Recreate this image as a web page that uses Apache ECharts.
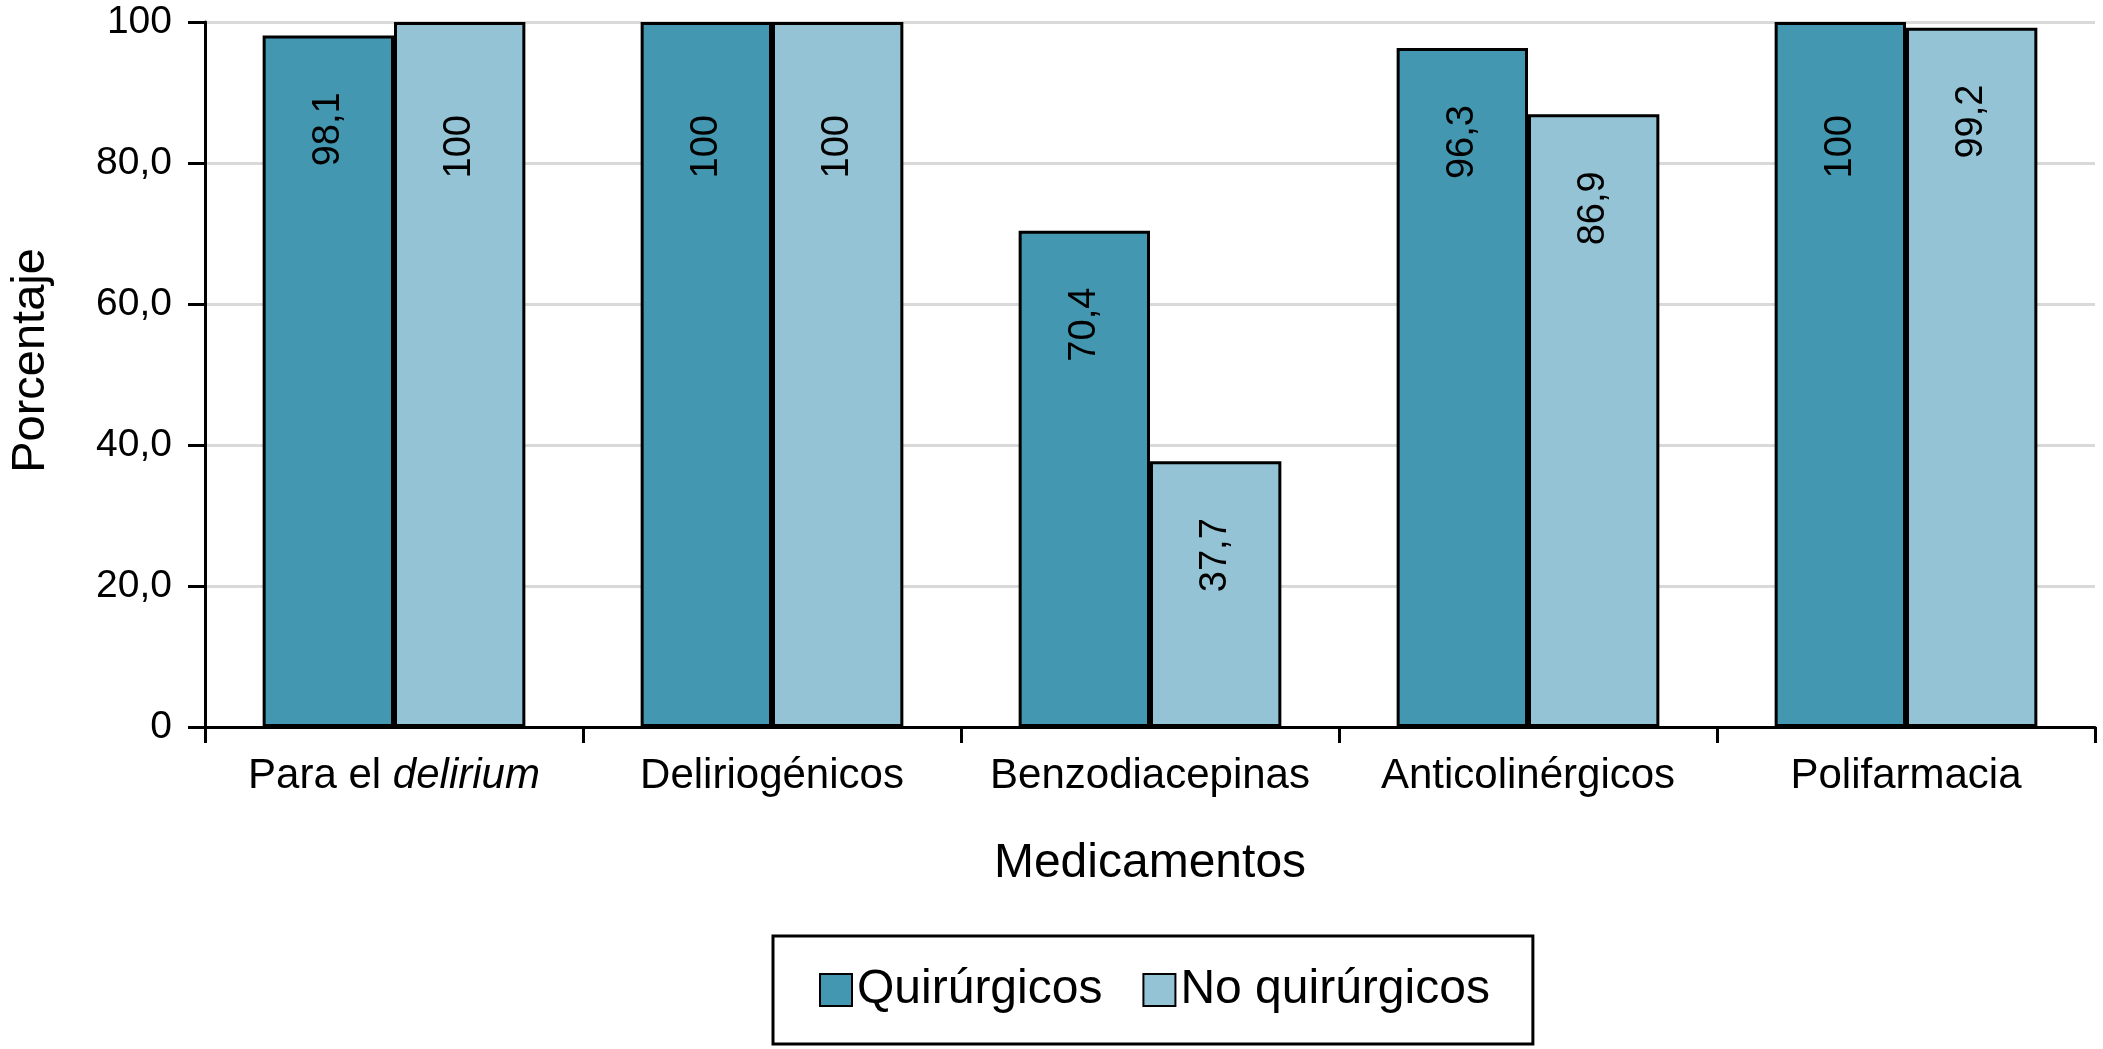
<!DOCTYPE html>
<html>
<head>
<meta charset="utf-8">
<script src="https://cdn.jsdelivr.net/npm/echarts@6/dist/echarts.min.js"></script>
<style>
html,body{margin:0;padding:0;background:#fff;}
#chart{width:2103px;height:1049px;}
</style>
</head>
<body>
<div id="chart"></div>
<script>
var categories = ['Para el delirium', 'Deliriogénicos', 'Benzodiacepinas', 'Anticolinérgicos', 'Polifarmacia'];
var seriesNames = ['Quirúrgicos', 'No quirúrgicos'];
var quirurgicos = [98.1, 100, 70.4, 96.3, 100];
var noQuirurgicos = [100, 100, 37.7, 86.9, 99.2];
var yTickLabels = ['0', '20,0', '40,0', '60,0', '80,0', '100'];

var FONT = '"Liberation Sans", Arial, Helvetica, sans-serif';
var colors = ['#4397B0', '#93C3D5'];

function fmtVal(v) {
  return v === 100 ? '100' : v.toFixed(1).replace('.', ',');
}
function makeData(arr) {
  return arr.map(function (v) {
    return { value: v, label: { distance: v === 100 ? 93 : 57 } };
  });
}
function makeSeries(name, arr, color) {
  return {
    name: name,
    type: 'bar',
    data: makeData(arr),
    barGap: '0%',
    barCategoryGap: '30.5%',
    itemStyle: { color: color, borderColor: '#000', borderWidth: 3 },
    label: {
      show: true,
      position: 'insideTop',
      rotate: 90,
      align: 'right',
      verticalAlign: 'middle',
      fontFamily: FONT,
      fontSize: 38,
      color: '#000',
      formatter: function (p) { return fmtVal(p.value); }
    },
    emphasis: { disabled: true }
  };
}

var chart = echarts.init(document.getElementById('chart'));
chart.setOption({
  animation: false,
  backgroundColor: '#fff',
  grid: { left: 200, right: 8, top: 22, bottom: 322 },
  legend: {
    data: seriesNames,
    left: 773,
    top: 936,
    orient: 'horizontal',
    itemWidth: 32,
    itemHeight: 32,
    itemGap: 40,
    padding: [30, 43, 30, 46],
    borderColor: '#000',
    borderWidth: 3,
    icon: 'rect',
    textStyle: { fontFamily: FONT, fontSize: 48, color: '#000' }
  },
  xAxis: {
    type: 'category',
    data: categories,
    name: 'Medicamentos',
    nameLocation: 'middle',
    nameGap: 113,
    nameTextStyle: { fontFamily: FONT, fontSize: 48, color: '#000' },
    axisLine: { show: true, lineStyle: { color: '#000', width: 3 } },
    axisTick: { show: true, interval: 0, length: 16, lineStyle: { color: '#000', width: 3 } },
    axisLabel: {
      interval: 0,
      margin: 28,
      fontFamily: FONT,
      fontSize: 42,
      color: '#000',
      formatter: function (v) {
        return v.indexOf('delirium') >= 0 ? v.replace('delirium', '{i|delirium}') : v;
      },
      rich: { i: { fontStyle: 'italic', fontFamily: FONT, fontSize: 42, color: '#000' } }
    }
  },
  yAxis: {
    type: 'value',
    min: 0,
    max: 100,
    interval: 20,
    name: 'Porcentaje',
    nameLocation: 'middle',
    nameGap: 150,
    nameTextStyle: { fontFamily: FONT, fontSize: 47, color: '#000', padding: [0, 0, 0, 28] },
    axisLine: { show: true, lineStyle: { color: '#000', width: 3 } },
    axisTick: { show: true, length: 17, lineStyle: { color: '#000', width: 3 } },
    axisLabel: {
      margin: 33,
      fontFamily: FONT,
      fontSize: 39,
      color: '#000',
      formatter: function (v) { return yTickLabels[Math.round(v / 20)]; }
    },
    splitLine: { show: true, lineStyle: { color: '#d9d9d9', width: 3 } }
  },
  series: [
    makeSeries(seriesNames[0], quirurgicos, colors[0]),
    makeSeries(seriesNames[1], noQuirurgicos, colors[1])
  ]
});
</script>
</body>
</html>
